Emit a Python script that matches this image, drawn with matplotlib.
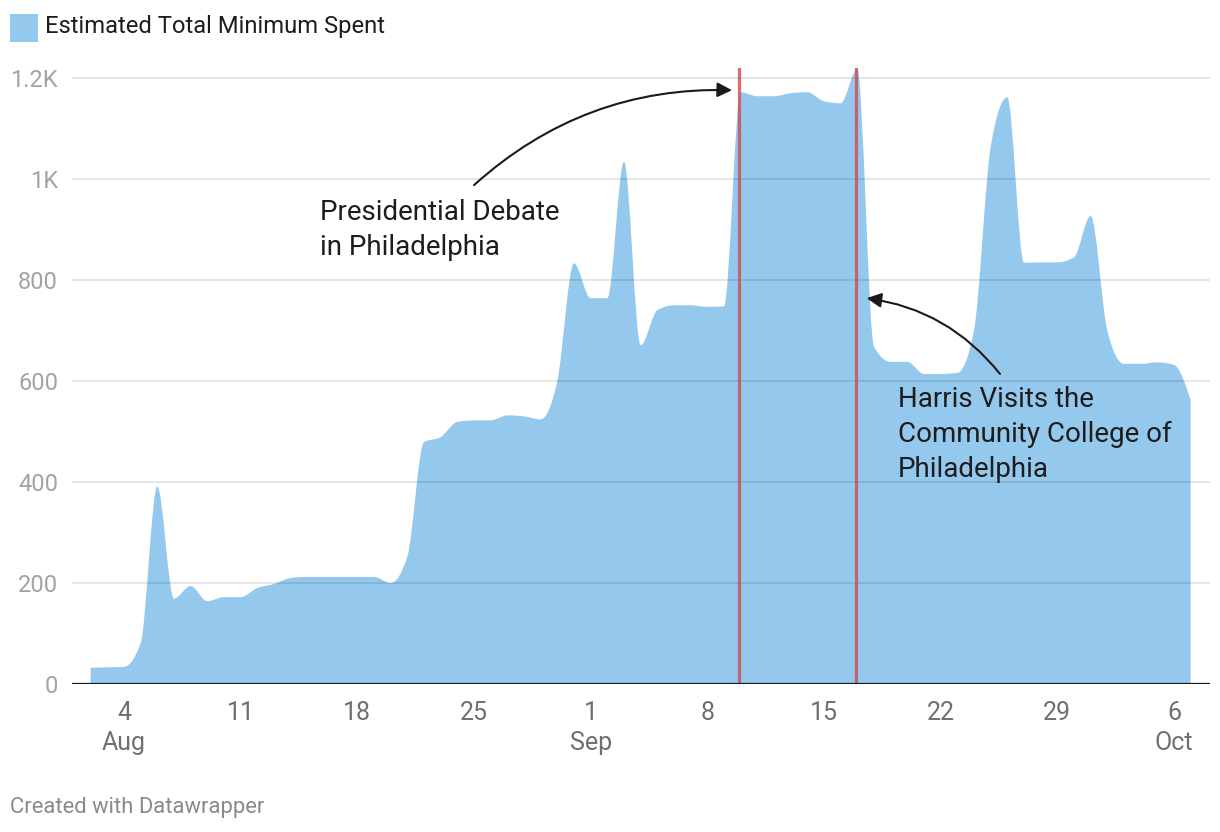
import numpy as np
import pandas as pd
import matplotlib
matplotlib.use("Agg")
import matplotlib.pyplot as plt
import matplotlib.dates as mdates
from matplotlib.path import Path
from matplotlib.patches import PathPatch, Rectangle

plt.rcParams['font.family'] = ['Roboto', 'DejaVu Sans']

# daily values, Aug 2 - Oct 7 2024
dates = pd.date_range("2024-08-02", "2024-10-07", freq="D")
spent = [32, 33, 34, 81, 391, 169, 194, 164, 172, 172,
         190, 198, 210, 212, 212, 212, 212, 212, 200, 252,
         479, 489, 519, 522, 522, 532, 530, 524, 600, 833,
         764, 764, 1034, 671, 740, 750, 750, 747, 748, 1172,
         1164, 1164, 1170, 1172, 1154, 1150, 1218, 668, 638, 638,
         614, 614, 616, 700, 1063, 1162, 834, 835, 835, 845,
         927, 700, 634, 634, 637, 632, 562]

event_dates = ["2024-09-10", "2024-09-17"]

tick_dates = ["2024-08-04", "2024-08-11", "2024-08-18", "2024-08-25", "2024-09-01",
              "2024-09-08", "2024-09-15", "2024-09-22", "2024-09-29", "2024-10-06"]
tick_labels = ["4\nAug", "11", "18", "25", "1\nSep", "8", "15", "22", "29", "6\nOct"]

y_ticks = [0, 200, 400, 600, 800, 1000, 1200]
y_labels = ["0", "200", "400", "600", "800", "1K", "1.2K"]

legend_label = "Estimated Total Minimum Spent"
fill_col = "#95c8ed"


def monotone_tangents(x, y):
    # same slopes as d3.curveMonotoneX
    h = np.diff(x)
    s = np.diff(y) / h
    t = np.zeros(len(x))
    for i in range(1, len(x) - 1):
        p = (s[i-1]*h[i] + s[i]*h[i-1]) / (h[i-1] + h[i])
        t[i] = (np.sign(s[i-1]) + np.sign(s[i])) * min(abs(s[i-1]), abs(s[i]), 0.5*abs(p))
    t[0] = (3*s[0] - t[1]) / 2
    t[-1] = (3*s[-1] - t[-2]) / 2
    return t


def area_path(x, y):
    t = monotone_tangents(x, y)
    verts = [(x[0], 0), (x[0], y[0])]
    codes = [Path.MOVETO, Path.LINETO]
    for i in range(len(x) - 1):
        h = x[i+1] - x[i]
        verts += [(x[i] + h/3, y[i] + h*t[i]/3),
                  (x[i+1] - h/3, y[i+1] - h*t[i+1]/3),
                  (x[i+1], y[i+1])]
        codes += [Path.CURVE4]*3
    verts += [(x[-1], 0), (x[0], 0)]
    codes += [Path.LINETO, Path.CLOSEPOLY]
    return Path(verts, codes)


xs = mdates.date2num(dates)
ys = np.array(spent, dtype=float)

fig = plt.figure(figsize=(12.2, 8.32), dpi=100)
ax = fig.add_axes([0.059, 0.1779, 0.9328, 0.7404])

ax.add_patch(PathPatch(area_path(xs, ys), facecolor=fill_col, edgecolor="none", zorder=1))

for yt in y_ticks[1:]:
    ax.axhline(yt, color="black", alpha=0.1, lw=1.4, zorder=2)
ax.axhline(0, color="#1a1a1a", lw=1.6, zorder=4)

for d in event_dates:
    ax.axvline(mdates.date2num(pd.Timestamp(d)) - 0.1, color="#d0494e", alpha=0.8, lw=2.3, zorder=3)

x0 = mdates.date2num(pd.Timestamp("2024-08-04"))
ax.set_xlim(x0 - 3.12, mdates.date2num(pd.Timestamp("2024-10-06")) + 2.16)
ax.set_ylim(0, 1220)

ax.set_xticks(mdates.date2num(pd.to_datetime(tick_dates)))
ax.set_xticklabels(tick_labels, fontsize=18, color="#6f6f6f", linespacing=1.33, va="top")
ax.set_yticks(y_ticks)
ax.set_yticklabels(y_labels, fontsize=17, color="#a3a3a3")
ax.tick_params(axis="both", length=0)
ax.tick_params(axis="x", pad=12)
ax.tick_params(axis="y", pad=10)
for sp in ax.spines.values():
    sp.set_visible(False)

# annotations
ax.annotate("", xy=(mdates.date2num(pd.Timestamp("2024-09-09")) + 0.48, 1176),
            xytext=(mdates.date2num(pd.Timestamp("2024-08-25")), 988),
            arrowprops=dict(arrowstyle="-|>", color="#1a1a1a", lw=1.5, mutation_scale=22,
                            connectionstyle="arc3,rad=-0.2", shrinkA=0, shrinkB=0), zorder=5)
ax.text(x0 - 2 + 13.75, 899, "Presidential Debate\nin Philadelphia", fontsize=20,
        color="#1d1d1d", ha="left", va="center", linespacing=1.38, zorder=5)

ax.annotate("", xy=(mdates.date2num(pd.Timestamp("2024-09-17")) + 0.56, 764),
            xytext=(mdates.date2num(pd.Timestamp("2024-09-25")) + 0.56, 614),
            arrowprops=dict(arrowstyle="-|>", color="#1a1a1a", lw=1.5, mutation_scale=22,
                            connectionstyle="arc3,rad=0.2", shrinkA=0, shrinkB=0), zorder=5)
ax.text(x0 - 2 + 48.44, 495, "Harris Visits the\nCommunity College of\nPhiladelphia",
        fontsize=20, color="#1d1d1d", ha="left", va="center", linespacing=1.38, zorder=5)

# legend
fig.patches.append(Rectangle((10, 832 - 42), 28, 28, transform=None, facecolor=fill_col,
                             edgecolor="none"))
fig.text(45 / 1220, 1 - 27 / 832, legend_label, fontsize=17.1, color="#1d1d1d",
         ha="left", va="center")

fig.text(10 / 1220, 1 - 807 / 832, "Created with Datawrapper", fontsize=15.8,
         color="#8a8a8a", ha="left", va="center")

fig.savefig("out.png", dpi=100)
